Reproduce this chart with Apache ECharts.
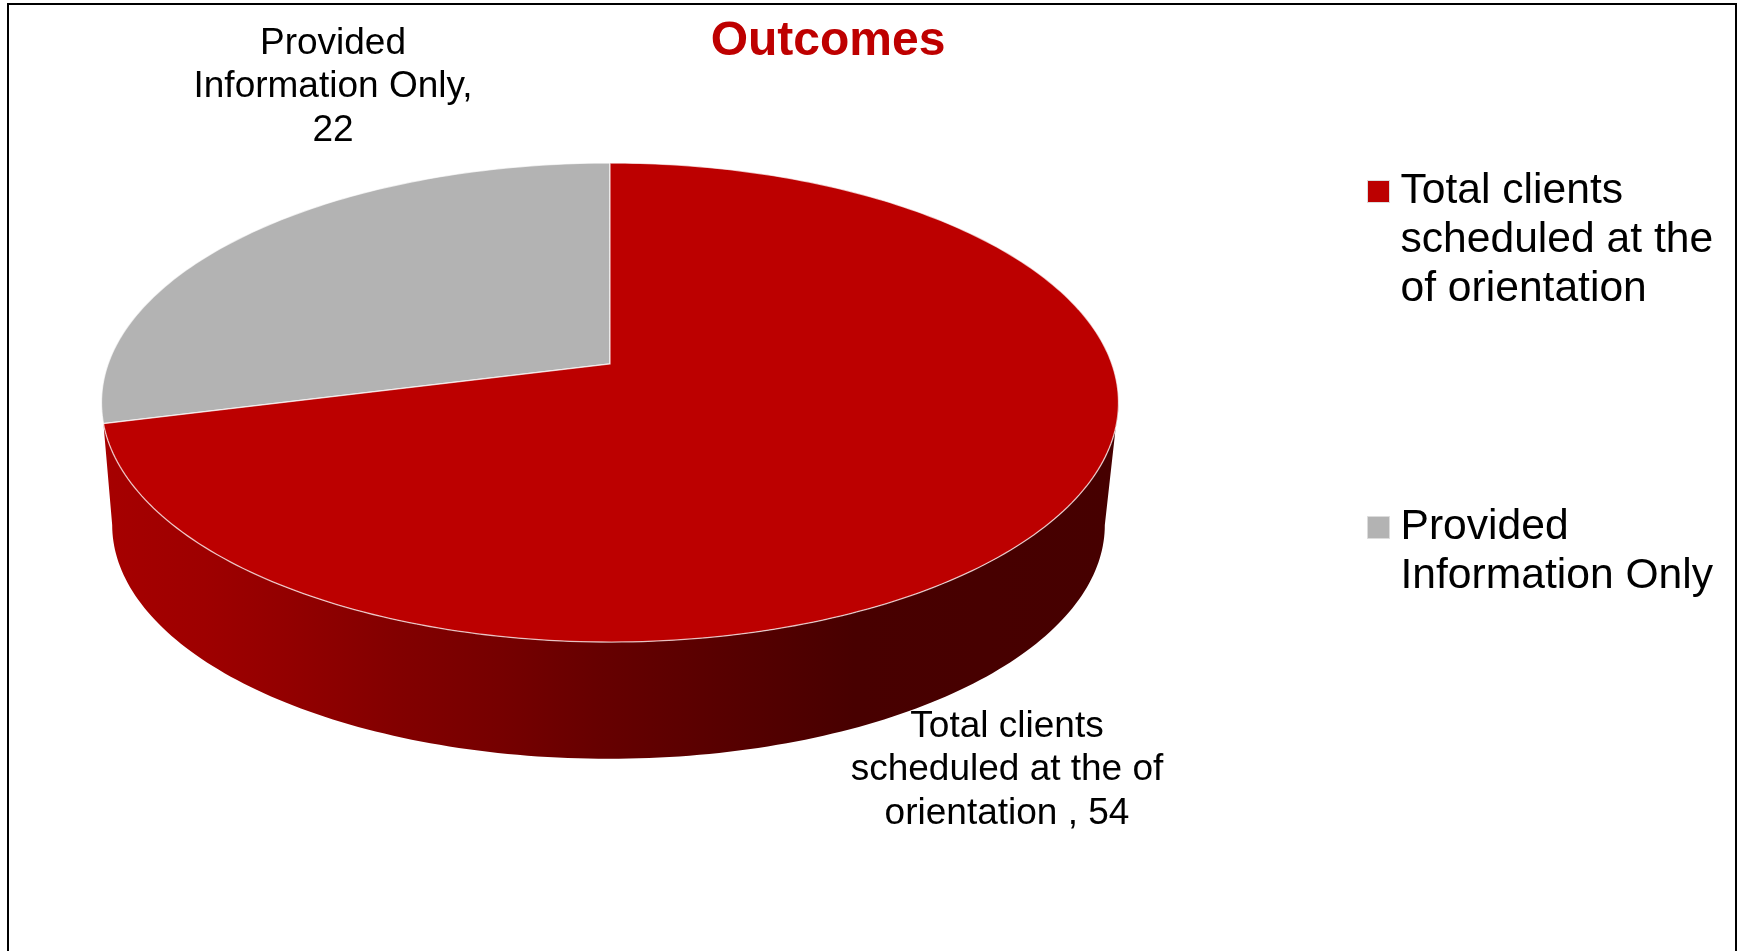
<!DOCTYPE html>
<html>
<head>
<meta charset="utf-8">
<title>Outcomes</title>
<style>html,body{margin:0;padding:0;background:#fff}#chart{width:1739px;height:951px}</style>
<script src="https://cdn.jsdelivr.net/npm/echarts@6/dist/echarts.min.js"></script>
</head>
<body>
<div id="chart"></div>
<script>
// Outcome counts
const categories = ['Total clients\nscheduled at the\nof orientation', 'Provided\nInformation Only'];
const values = [54, 22];
const labelPrefixes = ['Total clients\nscheduled at the of\norientation , ', 'Provided\nInformation Only,\n'];
const sliceColors = ['#bc0000', '#b3b3b3'];

const total = values.reduce((a, b) => a + b, 0);
const FONT = '"Liberation Sans", Arial, sans-serif';

// Perspective disc: maps a clockwise angle from 12 o'clock onto the screen.
const disc = { cx: 610, apexY: 364, a: 501.9, b: 174.8, k: 0.1608 };
function topPoint(deg) {
  const t = deg * Math.PI / 180;
  const u = Math.sin(t), v = Math.cos(t);
  const w = 1 + disc.k * v;
  return [disc.cx + disc.a * u / w, (disc.apexY - disc.b * v) / w];
}
// Lower rim of the disc: the upper rim shrunk slightly and moved down.
const rim = { s: 0.976, cx: 608.5, cy: 525, topCy: 402.5 };
function bottomPoint(deg) {
  const p = topPoint(deg);
  return [rim.cx + rim.s * (p[0] - disc.cx), rim.cy + rim.s * (p[1] - rim.topCy)];
}
function arc(fn, from, to) {
  const n = Math.max(2, Math.ceil(Math.abs(to - from)));
  const pts = [];
  for (let i = 0; i <= n; i++) pts.push(fn(from + (to - from) * i / n));
  return pts;
}
const tangent = Math.acos(-disc.k) * 180 / Math.PI;
const wallFill = new echarts.graphic.LinearGradient(103, 0, 1118, 0, [
  { offset: 0, color: '#a60000' },
  { offset: 0.1, color: '#9e0000' },
  { offset: 0.187, color: '#920000' },
  { offset: 0.293, color: '#820000' },
  { offset: 0.39, color: '#760000' },
  { offset: 0.49, color: '#660000' },
  { offset: 0.59, color: '#5a0000' },
  { offset: 0.74, color: '#480000' },
  { offset: 1, color: '#460000' }
], true);

const labelAnchors = [[1007, 770], [333, 87]];

function renderSlice(index) {
  return function (params, api) {
    const value = api.value(0), before = api.value(1);
    const start = before / total * 360, end = (before + value) / total * 360;
    const children = [];
    // The visible front wall lies inside the slice that spans the lower half.
    if (start < tangent && end > 180) {
      const wall = arc(topPoint, Math.min(end, 360 - tangent), tangent)
        .concat(arc(bottomPoint, tangent, 360 - tangent));
      children.push({ type: 'polygon', shape: { points: wall }, style: { fill: wallFill } });
    }
    const face = [[disc.cx, disc.apexY]].concat(arc(topPoint, start, end));
    children.push({
      type: 'polygon',
      shape: { points: face },
      style: { fill: sliceColors[index], stroke: 'rgba(255,255,255,0.7)', lineWidth: 1.3 }
    });
    children.push({
      type: 'text',
      style: {
        x: labelAnchors[index][0], y: labelAnchors[index][1],
        text: labelPrefixes[index] + value,
        align: 'center', verticalAlign: 'middle',
        font: '37px ' + FONT, lineHeight: 43.5, fill: '#000'
      }
    });
    return { type: 'group', children };
  };
}

let running = 0;
const series = values.map((v, i) => {
  const row = [v, running];
  running += v;
  return {
    type: 'custom',
    name: categories[i],
    coordinateSystem: 'none',
    data: [row],
    z: i === 0 ? 3 : 2,
    itemStyle: { color: sliceColors[i] },
    renderItem: renderSlice(i),
    silent: true
  };
});

// The swatch sits level with the first text line: its symbol box is as tall as
// the text block needs, and only the top of that box is painted.
const SWATCH = 22, LINE = 49;
function legendFor(i, top) {
  const lines = categories[i].split('\n').length;
  const boxHeight = SWATCH + LINE * (lines - 1);
  return {
    data: [categories[i]],
    orient: 'vertical',
    left: 1367,
    top: top,
    padding: 0,
    itemWidth: SWATCH,
    itemHeight: boxHeight,
    icon: 'path://M0 0H' + SWATCH + 'V' + SWATCH + 'H0Z M0 ' + boxHeight + 'H0.01',
    selectedMode: false,
    itemStyle: { borderColor: '#dcdcdc', borderWidth: 1 },
    textStyle: { fontFamily: FONT, fontSize: 42.6, lineHeight: LINE, color: '#000', padding: [0, 0, 0, 6] }
  };
}

const chart = echarts.init(document.getElementById('chart'), null, { renderer: 'canvas' });
chart.setOption({
  animation: false,
  backgroundColor: '#fff',
  title: {
    text: 'Outcomes',
    left: 823,
    top: 13,
    textAlign: 'center',
    textStyle: { fontFamily: FONT, fontSize: 48, fontWeight: 'bold', color: '#be0000' }
  },
  legend: [legendFor(0, 167), legendFor(1, 503)],
  graphic: [{
    type: 'rect',
    silent: true,
    shape: { x: 8, y: 4, width: 1728, height: 1000 },
    style: { fill: 'none', stroke: '#000', lineWidth: 2 }
  }],
  series
});
</script>
</body>
</html>
